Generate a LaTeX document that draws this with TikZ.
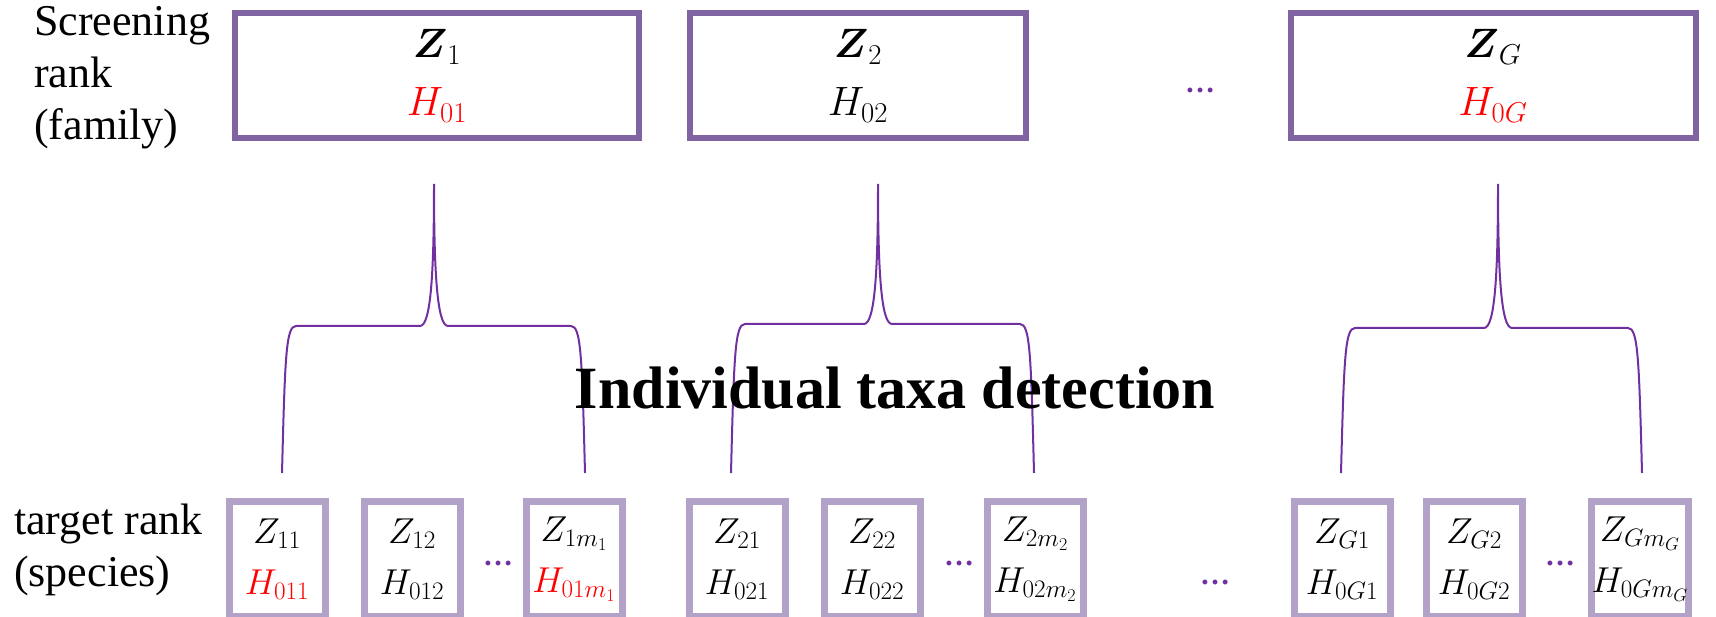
\RequirePackage{fix-cm}
\documentclass[tikz,border=0pt]{standalone}
\usepackage{fontspec}
\setmainfont{Liberation Serif}
\newfontfamily\rankfont{Liberation Serif}
\usepackage{amsmath,amssymb}
\usepackage{tikz}
\usetikzlibrary{positioning,calc}
\usepackage{xcolor}
\definecolor{famline}{HTML}{8064A2}
\definecolor{sppline}{HTML}{B3A2C7}
\definecolor{braceviolet}{HTML}{7030A0}

% rotated brace: #1 left leg x, #2 spike x, #3 right leg x, #4 bar y
\newcommand{\taxabrace}[4]{%
  \draw[braceLine] (#1,473) .. controls (#1+3,#4+30) and (#1+4,#4) .. (#1+14,#4)
    -- (#2-14,#4) .. controls (#2-3,#4) and (#2,#4-55) .. (#2,184)
    .. controls (#2,#4-55) and (#2+3,#4) .. (#2+14,#4)
    -- (#3-14,#4) .. controls (#3-4,#4) and (#3-3,#4+30) .. (#3,473);}

\begin{document}
\begin{tikzpicture}[x=1pt, y=-1pt,
  famBox/.style={draw=famline, line width=6pt, minimum width=404pt, minimum height=125pt,
    inner sep=0pt, align=center, font=\fontsize{41}{58}\selectfont,
    execute at begin node={\rule{0pt}{34pt}}},
  sppBox/.style={draw=sppline, line width=7pt, minimum width=96pt, minimum height=115pt,
    inner sep=0pt, align=center, font=\fontsize{36}{51}\selectfont,
    execute at begin node={\rule{0pt}{41pt}}},
  moreDots/.style={text=braceviolet, font=\rankfont\fontsize{30}{30}\selectfont\bfseries,
    inner sep=0pt, anchor=base},
  rankLabel/.style={align=left, anchor=west, inner sep=0pt,
    font=\rankfont\fontsize{44}{52}\selectfont},
  braceLine/.style={draw=braceviolet, line width=2pt}]
  \useasboundingbox (0,0) rectangle (1716,617);

  % Screening rank
  \node[rankLabel] (screen) at (34,78) {Screening\\rank\\(family)};
  \node[famBox] (fam1) at (437,76) {$\boldsymbol{Z}_1$\\ \textcolor{red}{$H_{01}$}};
  \node[famBox, minimum width=336pt] (fam2) at (858,76) {$\boldsymbol{Z}_2$\\ $H_{02}$};
  \node[moreDots] (famdots) at (1200,93) {\ldots};
  \node[famBox, minimum width=405pt] (famG) at (1493,76) {$\boldsymbol{Z}_G$\\ \textcolor{red}{$H_{0G}$}};

  % Braces
  \taxabrace{282}{434}{585}{326}
  \taxabrace{731}{878}{1034}{324}
  \taxabrace{1341}{1498}{1642}{328}
  \node[font=\rankfont\fontsize{60}{60}\selectfont\bfseries] (detect) at (895,388) {Individual taxa detection};

  % Target rank
  \node[rankLabel] (target) at (14,550) {target rank\\(species)};
  \node[sppBox] (z11) at (277,559) {$Z_{11}$\\ \textcolor{red}{$H_{011}$}};
  \node[sppBox] (z12) at (412,559) {$Z_{12}$\\ $H_{012}$};
  \node[moreDots] (dots1) at (498,565) {\ldots};
  \node[sppBox] (z1m) at (574,559) {$Z_{1m_1}$\\ \textcolor{red}{$H_{01m_1}$}};
  \node[sppBox] (z21) at (737,559) {$Z_{21}$\\ $H_{021}$};
  \node[sppBox] (z22) at (872,559) {$Z_{22}$\\ $H_{022}$};
  \node[moreDots] (dots2) at (959,565) {\ldots};
  \node[sppBox] (z2m) at (1035,559) {$Z_{2m_2}$\\ $H_{02m_2}$};
  \node[moreDots] (dots3) at (1215,584) {\ldots};
  \node[sppBox] (zG1) at (1342,559) {$Z_{G1}$\\ $H_{0G1}$};
  \node[sppBox] (zG2) at (1474,559) {$Z_{G2}$\\ $H_{0G2}$};
  \node[moreDots] (dots4) at (1560,565) {\ldots};
  \node[sppBox] (zGm) at (1640,559) {$Z_{Gm_G}$\\ $H_{0Gm_G}$};
\end{tikzpicture}
\end{document}
